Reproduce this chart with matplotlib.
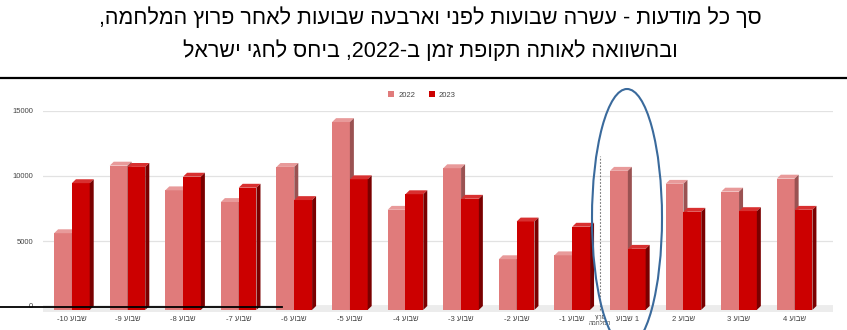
import re

import matplotlib
matplotlib.use("Agg")
import matplotlib.pyplot as plt
from matplotlib.lines import Line2D
from matplotlib.patches import Ellipse, Polygon

plt.rcParams["font.family"] = ["Liberation Sans", "DejaVu Sans"]

# data
WEEKS = [-10, -9, -8, -7, -6, -5, -4, -3, -2, -1, 1, 2, 3, 4]
ADS_2022 = [5600, 10800, 8900, 8000, 10700, 14150, 7400, 10600, 3600, 3900, 10400, 9400, 8800, 9800]
ADS_2023 = [9450, 10700, 9950, 9100, 8150, 9750, 8600, 8250, 6500, 6100, 4400, 7250, 7300, 7400]
SERIES = ["2022", "2023"]
Y_TICKS = [0, 5000, 10000, 15000]
WEEK_WORD = "שבוע"
WAR_LABEL = ["פרוץ", "המלחמה"]
TITLE_LINES = [
    "סך כל מודעות - עשרה שבועות לפני וארבעה שבועות לאחר פרוץ המלחמה,",
    "ובהשוואה לאותה תקופת זמן ב-2022, ביחס לחגי ישראל",
]

FRONT = ["#e07b7b", "#cc0000"]
TOP = ["#e89a9a", "#d83030"]
SIDE = ["#9a5252", "#7a0000"]


def visual(s):
    # matplotlib has no bidi: flip hebrew, keep number/latin runs readable
    out = s[::-1]
    return re.sub(r"[0-9A-Za-z]+", lambda m: m.group(0)[::-1], out)


def week_label(w):
    word = visual(WEEK_WORD)
    if w == 1:
        return f"{word} {w}"
    return f"{w} {word}"


W, H = 847, 330
fig = plt.figure(figsize=(W / 100, H / 100), dpi=100)
fig.patch.set_facecolor("white")

# title block
for i, line in enumerate(TITLE_LINES):
    fig.text(0.508, 1 - (18 + 33 * i) / H, visual(line), ha="center", va="center",
             fontsize=15.5, color="black")
fig.add_artist(Line2D([0, 1], [1 - 78 / H] * 2, transform=fig.transFigure,
                      color="black", lw=1.6))

ax = fig.add_axes([43 / W, (H - 306) / H, (833 - 43) / W, 195 / H])
ax.set_xlim(-0.52, 13.69)
ax.set_ylim(0, 15000)
for sp in ax.spines.values():
    sp.set_visible(False)

bw = 0.32
dx, dy = 0.072, 300
floor = -300

ax.fill_between([-0.52, 13.69], -470, 0, color="#ececec", lw=0, clip_on=False, zorder=0)
ax.yaxis.grid(True, color="#e2e2e2", lw=0.9)
ax.set_axisbelow(True)
ax.axhline(0, color="#b8b8b8", lw=1, zorder=1)

xs = list(range(len(WEEKS)))
for k, vals in enumerate([ADS_2022, ADS_2023]):
    offs = [x - bw + k * bw for x in xs]
    ax.bar(offs, [v - floor for v in vals], bottom=floor, width=bw, align="edge",
           color=FRONT[k], lw=0, label=SERIES[k], clip_on=False, zorder=2 + k)
    for x0, v in zip(offs, vals):
        x1 = x0 + bw
        ax.add_patch(Polygon([(x0, v), (x1, v), (x1 + dx, v + dy), (x0 + dx, v + dy)],
                             closed=True, color=TOP[k], lw=0, clip_on=False, zorder=2 + k))
        ax.add_patch(Polygon([(x1, floor), (x1 + dx, floor + dy), (x1 + dx, v + dy), (x1, v)],
                             closed=True, color=SIDE[k], lw=0, clip_on=False, zorder=2 + k))

ax.set_yticks(Y_TICKS)
ax.set_yticklabels([str(t) for t in Y_TICKS])
ax.set_xticks(xs)
ax.set_xticklabels([week_label(w) for w in WEEKS])
ax.tick_params(axis="y", length=0, pad=7, labelsize=5.5, labelcolor="#444444")
ax.tick_params(axis="x", length=0, pad=7, labelsize=5.5, labelcolor="#444444")

# war outbreak marker
war_x = 9.5
ax.plot([war_x, war_x], [floor, 11500], ls=(0, (1.5, 1.5)), color="#777777", lw=0.8,
        clip_on=False, zorder=4)
ax.text(war_x, -700, visual(WAR_LABEL[0]) + "\n" + visual(WAR_LABEL[1]), ha="center",
        va="top", fontsize=4.2, color="#444444", linespacing=1.0)

leg = ax.legend(loc="center", bbox_to_anchor=(422 / W, 1 - 95 / H),
                bbox_transform=fig.transFigure, ncol=2, frameon=False, fontsize=5.5,
                handlelength=0.8, handleheight=0.8, handletextpad=0.5, columnspacing=1.8)
for t in leg.get_texts():
    t.set_color("#444444")

# slide overlays
fig.add_artist(Line2D([0, 282 / W], [1 - 307 / H] * 2, transform=fig.transFigure,
                      color="black", lw=1.3))
fig.add_artist(Ellipse((627 / W, 1 - 218 / H), 70 / W, 258 / H, transform=fig.transFigure,
                       fill=False, edgecolor="#3a6a9c", lw=1.5))

fig.savefig("out.png", dpi=100)
